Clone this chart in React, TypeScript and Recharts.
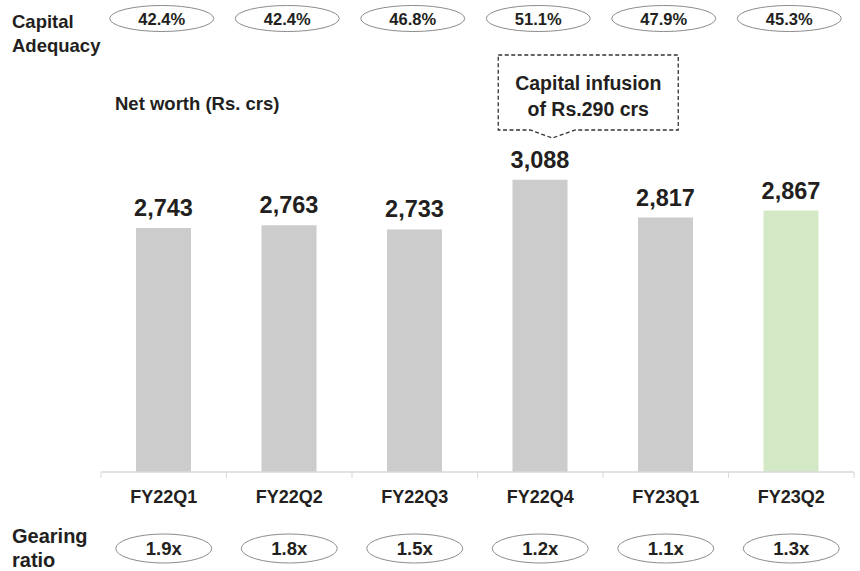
import React from 'react';
import { BarChart, Bar, XAxis, YAxis, LabelList, Cell } from 'recharts';

const quarters = ['FY22Q1', 'FY22Q2', 'FY22Q3', 'FY22Q4', 'FY23Q1', 'FY23Q2'];
const netWorth = [2743, 2763, 2733, 3088, 2817, 2867];
const capitalAdequacy = ['42.4%', '42.4%', '46.8%', '51.1%', '47.9%', '45.3%'];
const gearingRatio = ['1.9x', '1.8x', '1.5x', '1.2x', '1.1x', '1.3x'];
const calloutLines = ['Capital infusion', 'of Rs.290 crs'];
const calloutIndex = 3;

const FONT = '"Liberation Sans", Arial, Helvetica, sans-serif';
const TEXT = '#231f20';
const data = quarters.map((q, i) => ({ q, v: netWorth[i] }));

const Tick = (props: any) => {
  const { x, y, payload, index } = props;
  const half = payload?.offset ?? 62.75;
  const i = index ?? payload?.index ?? 0;
  return (
    <g>
      <line x1={x - half} x2={x - half} y1={y - 8} y2={y - 2} stroke="#d9d9d9" strokeWidth={1} />
      {i === quarters.length - 1 && (
        <line x1={x + half} x2={x + half} y1={y - 8} y2={y - 2} stroke="#d9d9d9" strokeWidth={1} />
      )}
      <text x={x} y={y + 23} textAnchor="middle" fontFamily={FONT} fontWeight="bold" fontSize={18} fill={TEXT}>
        {payload.value}
      </text>
      {/* Capital adequacy ellipse */}
      <ellipse cx={x - 2} cy={18.5} rx={52} ry={13} fill="#fff" stroke="#8c8c8c" strokeWidth={1} />
      <text x={x - 2} y={24.5} textAnchor="middle" fontFamily={FONT} fontWeight="bold" fontSize={16.5} fill={TEXT}>
        {capitalAdequacy[i]}
      </text>
      {/* Gearing ratio ellipse */}
      <ellipse cx={x} cy={548.5} rx={48} ry={14.5} fill="#fff" stroke="#8c8c8c" strokeWidth={1} />
      <text x={x} y={555} textAnchor="middle" fontFamily={FONT} fontWeight="bold" fontSize={18.5} fill={TEXT}>
        {gearingRatio[i]}
      </text>
      {i === calloutIndex && (
        <g>
          <path
            d={`M ${x - 42} 55 L ${x + 138} 55 L ${x + 138} 130 L ${x + 35} 130 L ${x + 12} 138 L ${x - 10} 130 L ${x - 42} 130 Z`}
            fill="#fff"
            stroke="#333"
            strokeWidth={1.3}
            strokeDasharray="4 2.5"
          />
          <text x={x + 48} y={90} textAnchor="middle" fontFamily={FONT} fontWeight="bold" fontSize={19.5} fill={TEXT}>
            {calloutLines[0]}
          </text>
          <text x={x + 48} y={116} textAnchor="middle" fontFamily={FONT} fontWeight="bold" fontSize={19.5} fill={TEXT}>
            {calloutLines[1]}
          </text>
        </g>
      )}
    </g>
  );
};

export default function App() {
  return (
    <div style={{ position: 'absolute', left: 0, top: 0, width: 860, height: 571, background: '#fff' }}>
      <svg width={860} height={571} style={{ position: 'absolute', left: 0, top: 0 }}>
        <text x={12} y={28} fontFamily={FONT} fontWeight="bold" fontSize={18.5} fill={TEXT}>Capital</text>
        <text x={12} y={52} fontFamily={FONT} fontWeight="bold" fontSize={18.5} fill={TEXT}>Adequacy</text>
        <text x={115} y={110} fontFamily={FONT} fontWeight="bold" fontSize={18.5} fill={TEXT}>Net worth (Rs. crs)</text>
        <text x={12} y={543} fontFamily={FONT} fontWeight="bold" fontSize={20} fill={TEXT}>Gearing</text>
        <text x={12} y={567} fontFamily={FONT} fontWeight="bold" fontSize={20} fill={TEXT}>ratio</text>
      </svg>
      <div style={{ position: 'absolute', left: 0, top: 0 }}>
        <BarChart width={860} height={571} data={data} margin={{ top: 108, right: 6, bottom: 69, left: 101 }}>
          <YAxis hide width={0} domain={[1000, 3600]} allowDataOverflow />
          <XAxis
            dataKey="q"
            height={30}
            axisLine={{ stroke: '#d9d9d9', strokeWidth: 1.5 }}
            tickLine={false}
            interval={0}
            tick={<Tick />}
          />
          <Bar dataKey="v" barSize={55} isAnimationActive={false}>
            {data.map((d, i) => (
              <Cell key={d.q} fill={i === data.length - 1 ? '#d3e9c6' : '#cccccc'} />
            ))}
            <LabelList
              dataKey="v"
              position="top"
              offset={12}
              formatter={(v: any) => Number(v).toLocaleString('en-US')}
              style={{ fontFamily: FONT, fontWeight: 'bold', fontSize: 23.5, fill: TEXT }}
            />
          </Bar>
        </BarChart>
      </div>
    </div>
  );
}
